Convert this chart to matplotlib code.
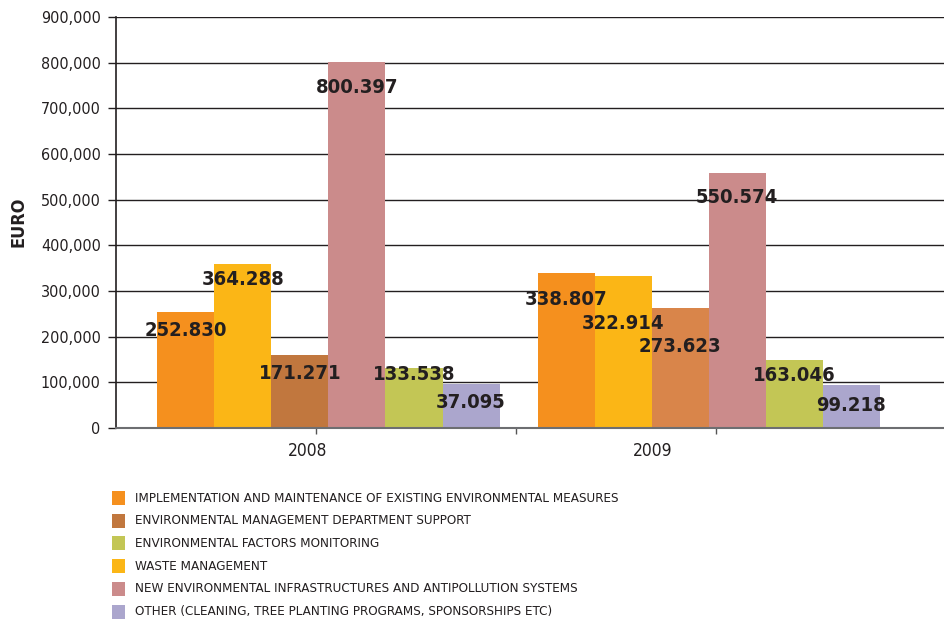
import numpy as np
from matplotlib import pyplot as plt
from matplotlib.patches import Rectangle
from matplotlib.ticker import FuncFormatter

# series, in the order the bars are drawn inside each year
series = [
    'IMPLEMENTATION AND MAINTENANCE OF EXISTING ENVIRONMENTAL MEASURES',
    'WASTE MANAGEMENT',
    'ENVIRONMENTAL MANAGEMENT DEPARTMENT SUPPORT',
    'NEW ENVIRONMENTAL INFRASTRUCTURES AND ANTIPOLLUTION SYSTEMS',
    'ENVIRONMENTAL FACTORS MONITORING',
    'OTHER (CLEANING, TREE PLANTING PROGRAMS, SPONSORSHIPS ETC)',
]
years = ['2008', '2009']

# bar heights as drawn (euro)
values_2008 = [254000, 359000, 160000, 801000, 131000, 96000]
values_2009 = [339000, 333000, 263000, 558000, 149000, 94000]

# printed value labels
labels_2008 = ['252.830', '364.288', '171.271', '800.397', '133.538', '37.095']
labels_2009 = ['338.807', '322.914', '273.623', '550.574', '163.046', '99.218']

legend_order = [0, 2, 4, 1, 3, 5]

colors_2008 = ['#F5901E', '#FBB616', '#C1773E', '#CB8B8B', '#C3C655', '#ABA6CD']
colors_2009 = ['#F5901E', '#FBB616', '#D9854A', '#CB8B8B', '#C3C655', '#ABA6CD']

# vertical shift of each value label from the bar top (pixels)
shift_2008 = [-18, -15, -19, -25, -6, -18]
shift_2009 = [-26, -48, -39, -24, -16, -20]


def main():
    plt.rcParams['font.family'] = ['DejaVu Sans']
    plt.rcParams['font.stretch'] = 'condensed'

    fig = plt.figure(figsize=(9.45, 6.23), dpi=100)
    W, H = 945, 623
    ax = fig.add_axes([116 / W, 1 - 428 / H, (945 - 116) / W, (428 - 17) / H])

    n = len(series)
    width = 0.15
    x = np.arange(len(years))
    for i in range(n):
        xs = x + (i - (n - 1) / 2) * width
        vals = [values_2008[i], values_2009[i]]
        cols = [colors_2008[i], colors_2009[i]]
        ax.bar(xs, vals, width, color=cols, zorder=3, linewidth=0)
        for xi, v, lab, sh in zip(xs, vals, [labels_2008[i], labels_2009[i]],
                                  [shift_2008[i], shift_2009[i]]):
            ax.annotate(lab, (xi, v), xytext=(0, sh), textcoords='offset pixels',
                        ha='center', va='center', fontsize=14.5,
                        fontweight='bold', color='#231F20', zorder=5)

    ax.set_xlim(-0.559, 1.622)
    ax.set_ylim(0, 900000)
    ax.set_yticks(np.arange(0, 900001, 100000))
    ax.yaxis.set_major_formatter(FuncFormatter(lambda v, p: f'{int(v):,}'))
    ax.yaxis.grid(True, color='#231F20', linewidth=1.0, zorder=1)
    ax.tick_params(axis='y', direction='out', length=6, width=1,
                   color='#231F20', labelsize=11.5, labelcolor='#231F20', pad=5)

    # year labels, then the small tick marks on the x axis
    ax.set_xticks([-0.054, 0.854])
    ax.set_xticklabels(years)
    ax.tick_params(axis='x', length=0, pad=10, labelsize=12.5, labelcolor='#231F20')
    ax.set_xticks([-0.033, 0.493, 1.02], minor=True)
    ax.tick_params(axis='x', which='minor', length=4, width=1, color='#555555')

    for s in ['top', 'right']:
        ax.spines[s].set_visible(False)
    ax.spines['left'].set_color('#231F20')
    ax.spines['left'].set_linewidth(1.2)
    ax.spines['bottom'].set_color('#6D6E71')
    ax.spines['bottom'].set_linewidth(1.5)
    ax.spines['bottom'].set_zorder(4)

    fig.text(19 / W, 1 - 222 / H, 'EURO', rotation=90, ha='center', va='center',
             fontsize=13, fontweight='bold', color='#231F20')

    # legend
    for row, i in enumerate(legend_order):
        yc = 498 + row * 22.7
        fig.patches.append(Rectangle((112 / W, 1 - (yc + 7) / H), 13 / W, 14 / H,
                                     transform=fig.transFigure,
                                     color=colors_2008[i], linewidth=0))
        fig.text(135 / W, 1 - yc / H, series[i], ha='left', va='center',
                 fontsize=9.6, color='#231F20')

    fig.savefig('out.png', dpi=100)


if __name__ == '__main__':
    main()
